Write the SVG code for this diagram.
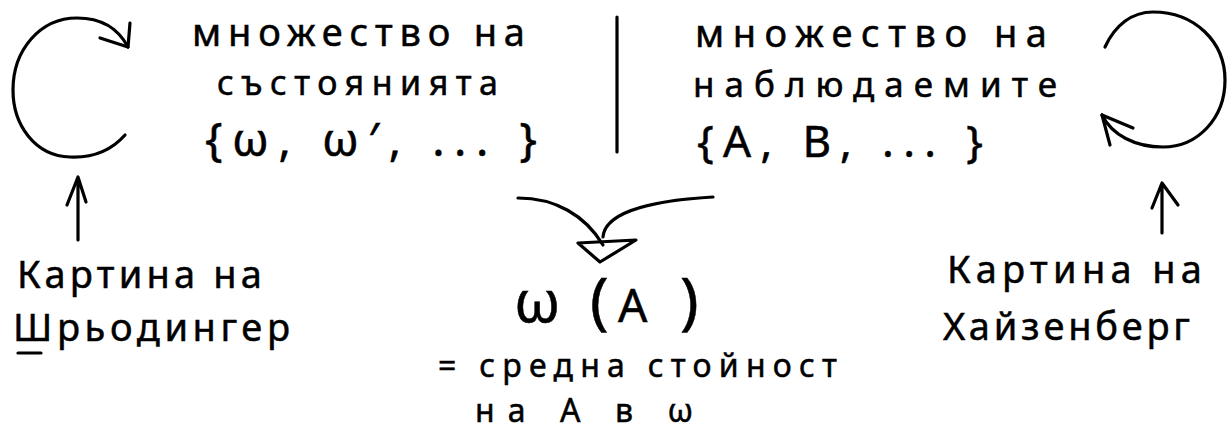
<svg xmlns="http://www.w3.org/2000/svg" width="1228" height="432" viewBox="0 0 1228 432">
  <style>
    .ink { fill: none; stroke: #000; stroke-width: 3.2; stroke-linecap: round; stroke-linejoin: round; }
    .t { font-family: "Noto Sans", "DejaVu Sans", sans-serif; fill: #000; stroke: #000; stroke-width: 0.5; }
  </style>
  <rect width="1228" height="432" fill="#fff"/>

  <g id="connectors">
    <!-- left loop (Schrödinger picture) -->
    <path class="ink" d="M125,135 C110,152 92,158 70,157 C35,156 13,125 13,90 C13,50 40,18 77,18 C100,18 118,28 128,47"/>
    <path class="ink" d="M100,38 L128,47 L130,23"/>
    <!-- right loop (Heisenberg picture) -->
    <path class="ink" d="M1105,47 C1115,25 1132,12 1153,12 C1195,12 1225,42 1225,80 C1225,118 1198,147 1163,147 C1135,147 1112,135 1102,115"/>
    <path class="ink" d="M1133,128 L1102,115 L1110,145"/>
    <!-- up arrows -->
    <path class="ink" d="M78,240 L78,177 M67,205 L78,177 L86,202"/>
    <path class="ink" d="M1162,233 L1162,183 M1152,208 L1162,183 L1178,205"/>
    <!-- merging arrows -->
    <path class="ink" d="M518,198 C555,198 585,215 603,245"/>
    <path class="ink" d="M713,197 C660,200 605,210 603,237"/>
    <path class="ink" d="M578,243 L636,240 L600,262 Z"/>
    <!-- divider -->
    <path class="ink" d="M617,17 L617,152"/>
  </g>

  <g id="states">
    <text class="t" x="192" y="46" font-size="38" textLength="333" lengthAdjust="spacing">множество на</text>
    <text class="t" x="217" y="95" font-size="34" textLength="281" lengthAdjust="spacing">състоянията</text>
    <text class="t" x="205" y="156" font-size="46" textLength="332" lengthAdjust="spacing">{ω, ω′, ... }</text>
  </g>

  <g id="observables">
    <text class="t" x="695" y="47" font-size="38" textLength="352" lengthAdjust="spacing">множество на</text>
    <text class="t" x="693" y="97" font-size="35" textLength="364" lengthAdjust="spacing">наблюдаемите</text>
    <text class="t" x="697" y="157" font-size="44" textLength="286" lengthAdjust="spacing">{A, B, ... }</text>
  </g>

  <g id="expectation">
    <text class="t" y="322"><tspan x="514" font-size="58">ω</tspan><tspan x="590" font-size="62">(</tspan><tspan x="618" font-size="46">A</tspan><tspan x="680" font-size="62">)</tspan></text>
    <text class="t" x="438" y="377" font-size="32" textLength="399" lengthAdjust="spacing">= средна стойност</text>
    <text class="t" x="475" y="422" font-size="32" textLength="218" lengthAdjust="spacing">на A в ω</text>
  </g>

  <g id="schroedinger">
    <text class="t" x="17" y="288" font-size="38" textLength="245" lengthAdjust="spacing">Картина на</text>
    <text class="t" x="13" y="341" font-size="38" textLength="277" lengthAdjust="spacing">Шрьодингер</text>
    <path class="ink" d="M18,353 L41,353"/>
  </g>

  <g id="heisenberg">
    <text class="t" x="947" y="283" font-size="38" textLength="255" lengthAdjust="spacing">Картина на</text>
    <text class="t" x="943" y="340" font-size="38" textLength="247" lengthAdjust="spacing">Хайзенберг</text>
  </g>
</svg>
